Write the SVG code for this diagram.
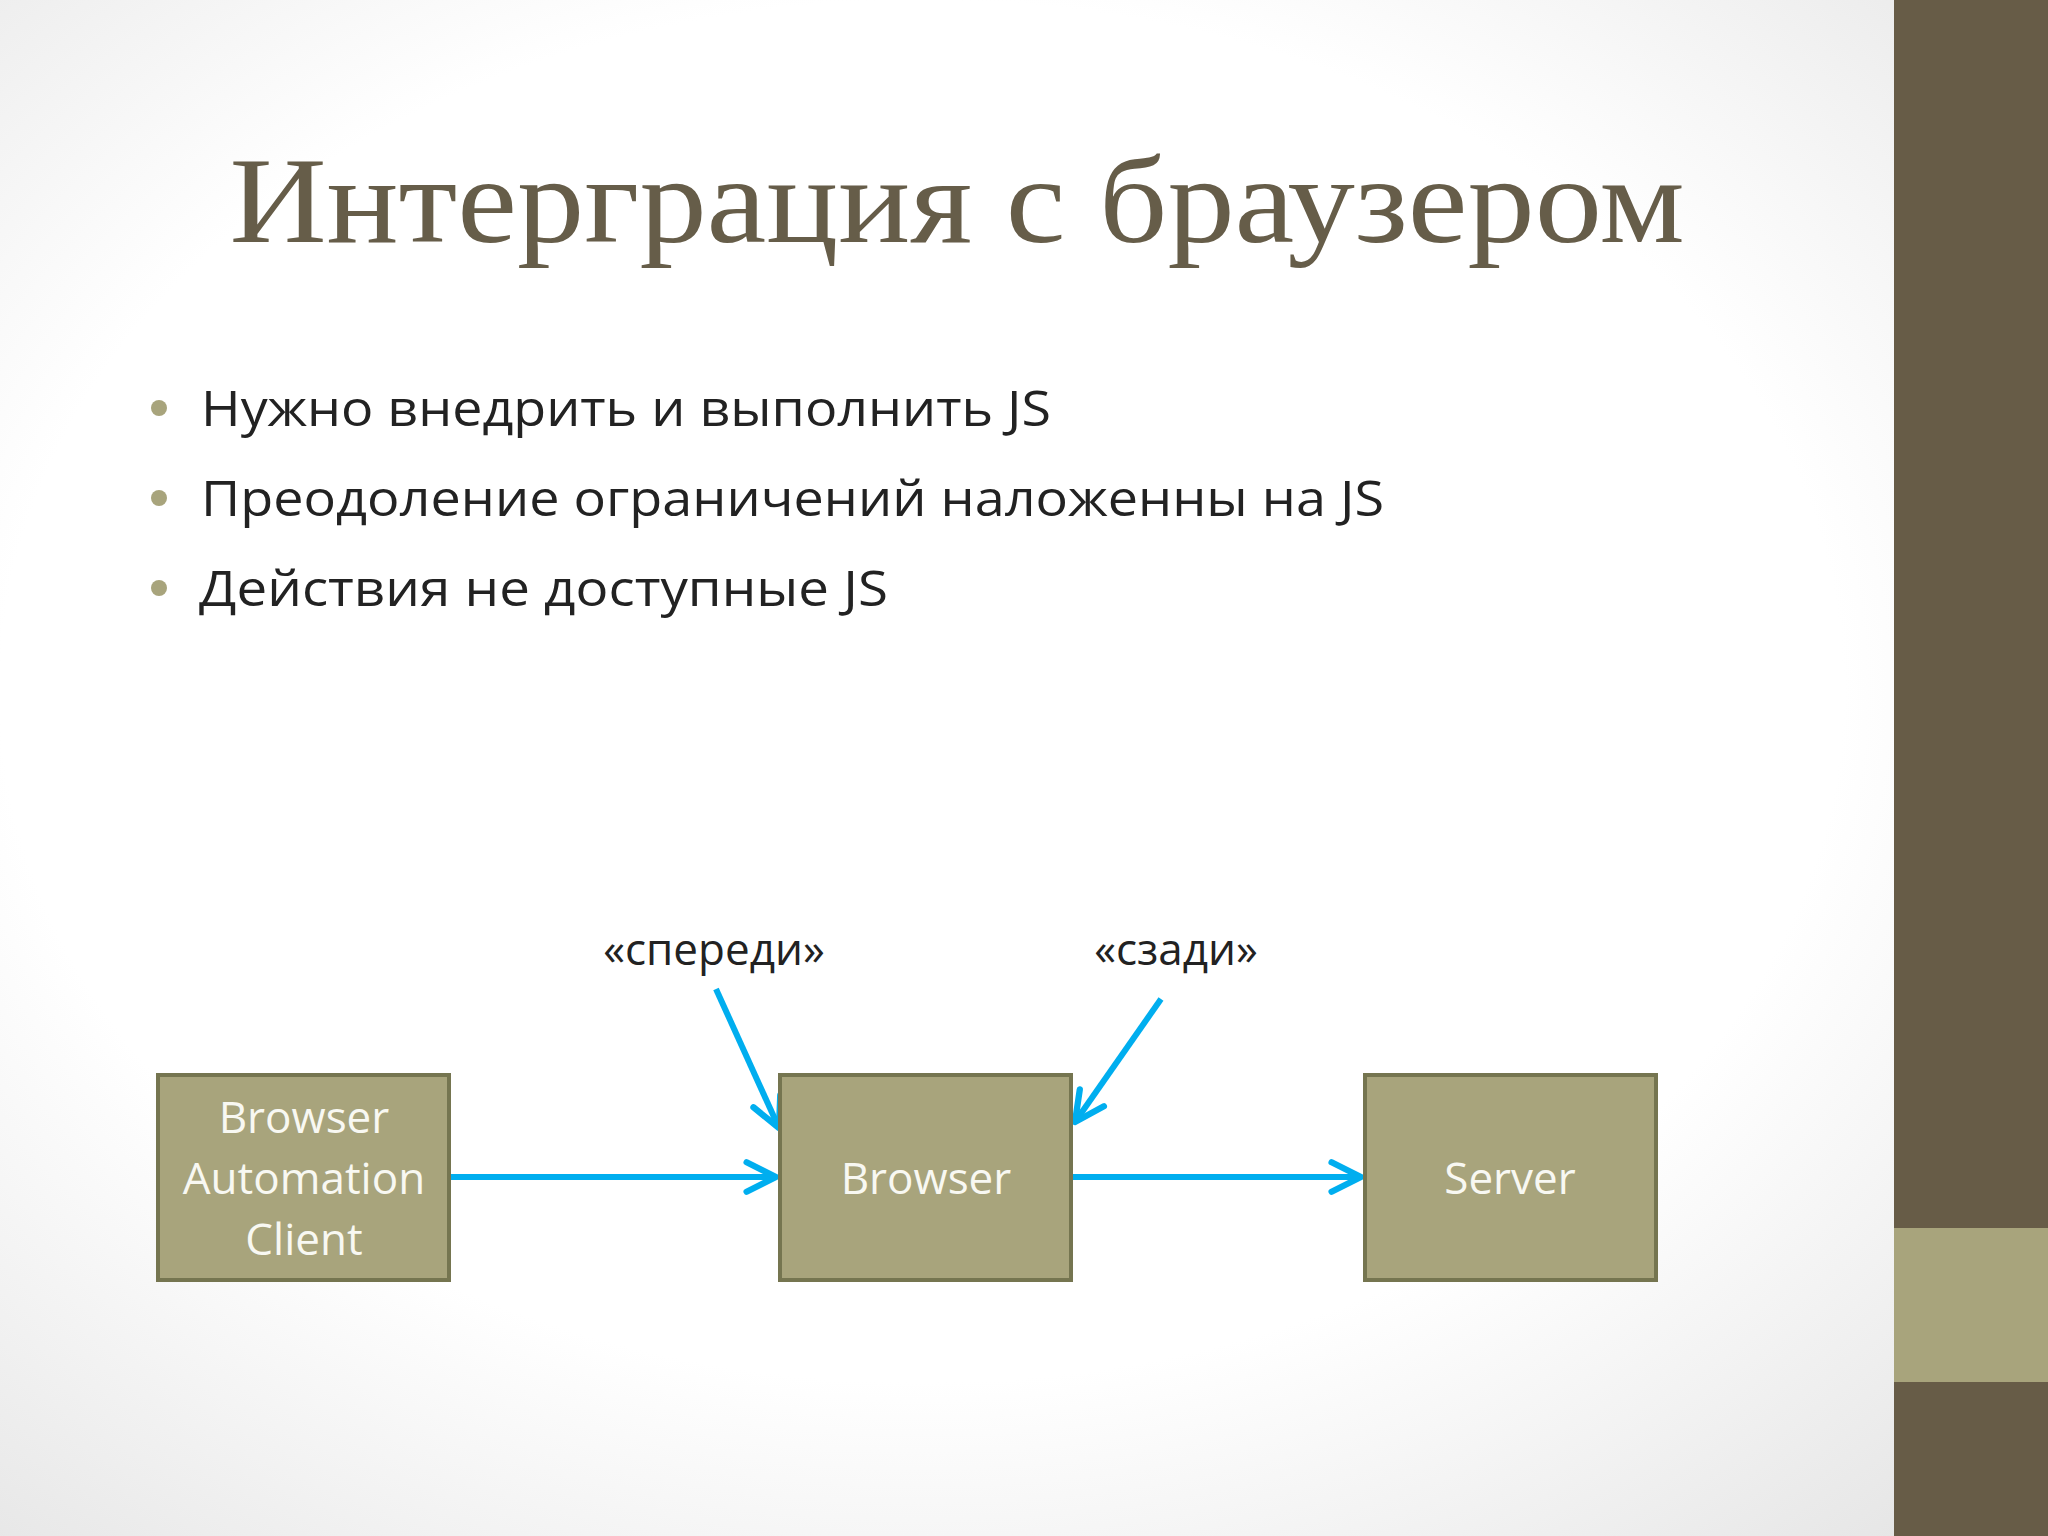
<svg xmlns="http://www.w3.org/2000/svg" width="2048" height="1536" viewBox="0 0 2048 1536">
<defs>
<radialGradient id="bg" cx="0.45" cy="0.45" r="0.75">
<stop offset="0.6" stop-color="#ffffff"/><stop offset="1" stop-color="#e4e4e4"/>
</radialGradient>
<marker id="ah" viewBox="0 0 20 20" refX="17" refY="10" markerWidth="7" markerHeight="7" markerUnits="strokeWidth" orient="auto">
<path d="M3,3 L17,10 L3,17" fill="none" stroke="#00aeef" stroke-width="3" stroke-linecap="round" stroke-linejoin="round"/>
</marker>
<style>
.box{fill:#a8a47c;stroke:#757550;stroke-width:4}
.bt{font-family:"Open Sans","Liberation Sans",sans-serif;font-size:44px;fill:#f8f8f2;text-anchor:middle}
.bul{font-family:"Open Sans","Liberation Sans",sans-serif;font-size:50px;fill:#222}
.lbl{font-family:"Open Sans","Liberation Sans",sans-serif;font-size:44px;fill:#222;text-anchor:middle}
.c{stroke:#00aeef;stroke-width:6;fill:none;marker-end:url(#ah)}
</style>
</defs>
<rect width="2048" height="1536" fill="url(#bg)"/>
<rect x="1894" y="0" width="154" height="1536" fill="#675c47"/>
<rect x="1894" y="1228" width="154" height="154" fill="#a8a47c"/>
<text x="957" y="242" text-anchor="middle" font-family="Liberation Serif,serif" font-size="122" fill="#665d49" textLength="1455" lengthAdjust="spacingAndGlyphs">Интерграция с браузером</text>
<g fill="#a8a47c"><circle cx="159" cy="408" r="8"/><circle cx="159" cy="498" r="8"/><circle cx="159" cy="588" r="8"/></g>
<text class="bul" x="201" y="426" textLength="850" lengthAdjust="spacingAndGlyphs">Нужно внедрить и выполнить JS</text>
<text class="bul" x="201" y="516" textLength="1183" lengthAdjust="spacingAndGlyphs">Преодоление ограничений наложенны на JS</text>
<text class="bul" x="199" y="606" textLength="689" lengthAdjust="spacingAndGlyphs">Действия не доступные JS</text>
<g id="connectors">
<line class="c" x1="449" y1="1177" x2="776" y2="1177"/>
<line class="c" x1="1071" y1="1177" x2="1361" y2="1177"/>
<line class="c" x1="716" y1="989" x2="779" y2="1128"/>
<line class="c" x1="1161" y1="999" x2="1075" y2="1122"/>
</g>
<g id="client"><rect class="box" x="158" y="1075" width="291" height="205"/>
<text class="bt" x="304" y="1133">Browser</text><text class="bt" x="304" y="1194">Automation</text><text class="bt" x="304" y="1255">Client</text></g>
<g id="browser"><rect class="box" x="780" y="1075" width="291" height="205"/><text class="bt" x="926" y="1194">Browser</text></g>
<g id="server"><rect class="box" x="1365" y="1075" width="291" height="205"/><text class="bt" x="1510" y="1194">Server</text></g>
<g id="front"><text class="lbl" x="714" y="965">«спереди»</text></g>
<g id="back"><text class="lbl" x="1176" y="965">«сзади»</text></g>
</svg>
